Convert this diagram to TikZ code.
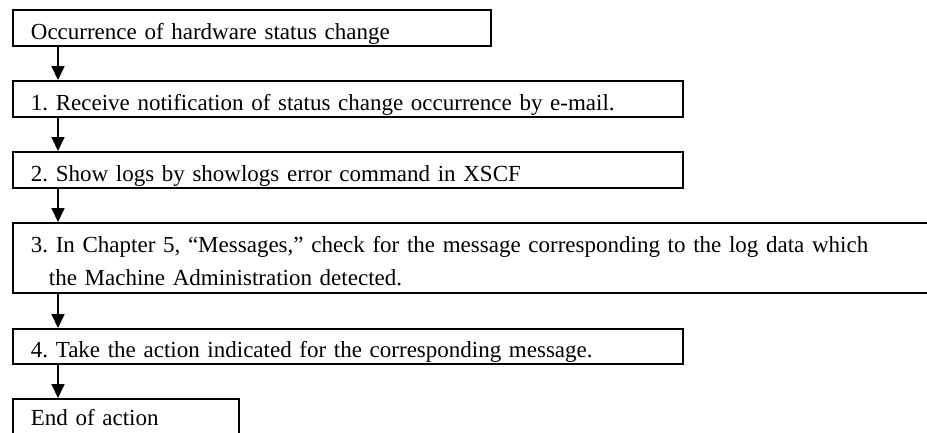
\documentclass[tikz,border=0pt]{standalone}
\usepackage{fontspec}
\setmainfont{Liberation Serif}
\usetikzlibrary{arrows.meta}
\frenchspacing
\begin{document}
\begin{tikzpicture}[x=1pt,y=-1pt,
  box/.style={draw, line width=1.8pt, anchor=north west, inner ysep=0pt, inner xsep=18pt,
    align=left, font=\fontsize{23}{33}\selectfont\frenchspacing},
  one/.style={box, text height=30pt, text depth=6pt},
  flow/.style={line width=1.8pt, -{Triangle[length=14pt,width=13pt]}}]
\useasboundingbox (0,0) rectangle (927,432);
\node[one, minimum width=478, text width=442] (b0) at (12,9) {Occurrence of hardware status change};
\node[one, minimum width=670, text width=634] (b1) at (12,80) {1. Receive notification of status change occurrence by e-mail.};
\node[one, minimum width=670, text width=634] (b2) at (12,151) {2. Show logs by showlogs error command in XSCF};
\node[box, minimum width=916, minimum height=70, text width=880] (b3) at (12,222) {\rule{0pt}{22pt}3. In Chapter 5, “Messages,” check for the message corresponding to the log data which\\\hspace*{18pt}the Machine Administration detected.};
\node[one, text height=29pt, minimum width=670, text width=634] (b4) at (12,328) {4. Take the action indicated for the corresponding message.};
\node[one, text height=27pt, text depth=9pt, minimum width=226, text width=190] (b5) at (12,398) {End of action};
\foreach \a/\b in {b0/b1,b1/b2,b2/b3,b3/b4,b4/b5}
  \draw[flow] ([xshift=46pt]\a.south west) -- ([xshift=46pt]\b.north west);
\end{tikzpicture}
\end{document}
